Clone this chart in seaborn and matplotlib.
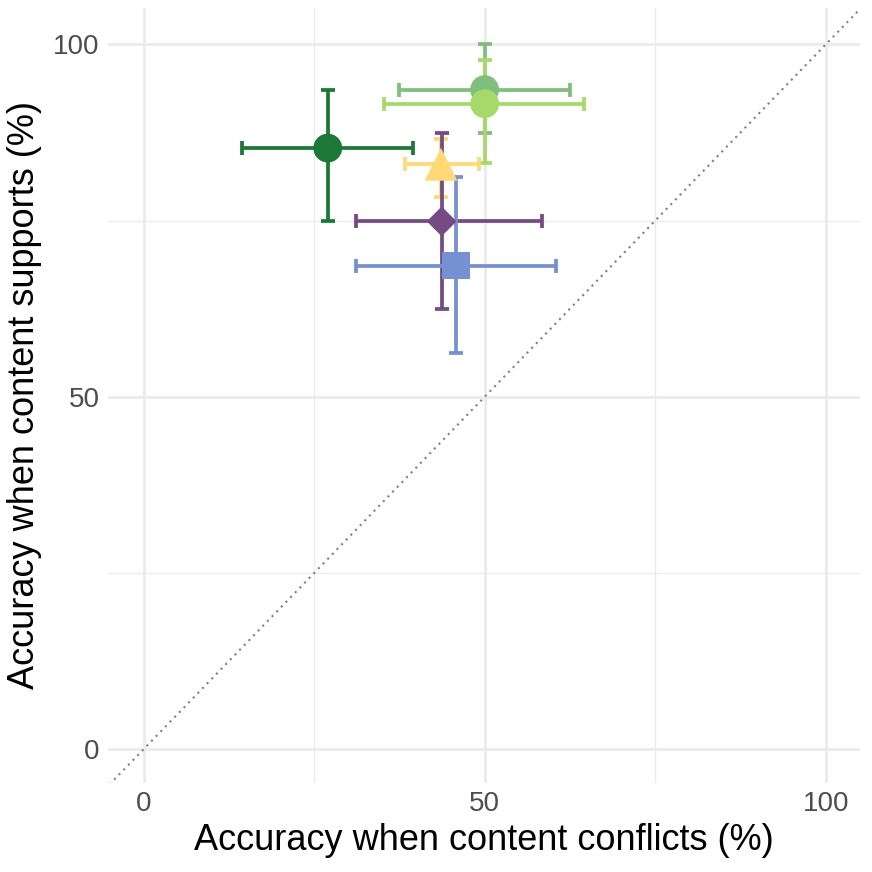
import matplotlib
matplotlib.use("Agg")
import matplotlib.pyplot as plt
import seaborn as sns
import pandas as pd

# one row per model: conflict accuracy (x) vs support accuracy (y), with 95% intervals
groups = ["g1", "g2", "g3", "g4", "g5", "g6"]
conflict = [27.0, 50.0, 50.0, 43.6, 43.7, 45.8]
conflict_lo = [14.4, 37.4, 35.3, 38.3, 31.1, 31.1]
conflict_hi = [39.5, 62.5, 64.6, 49.1, 58.4, 60.4]
support = [85.3, 93.6, 91.6, 83.0, 74.9, 68.6]
support_lo = [74.9, 87.4, 83.2, 78.3, 62.4, 56.2]
support_hi = [93.6, 100.0, 97.8, 86.6, 87.4, 81.2]

colors = ["#1b7837", "#7fbf7b", "#a6d96a", "#fed976", "#764a83", "#7591d1"]
markers = ["o", "o", "o", "^", "D", "s"]
msizes = [430, 430, 430, 560, 230, 380]

df = pd.DataFrame({"group": groups, "conflict": conflict, "support": support,
                   "xlo": conflict_lo, "xhi": conflict_hi,
                   "ylo": support_lo, "yhi": support_hi})

sns.set_theme(style="whitegrid")
plt.rcParams["font.family"] = ["Liberation Sans", "DejaVu Sans"]

fig = plt.figure(figsize=(8.72, 8.72), dpi=100)
ax = fig.add_axes([0.124, 0.102, 0.862, 0.889])

ax.plot([-5, 105], [-5, 105], linestyle=(0, (1, 2.2)), color="#7f7f7f", lw=1.5, zorder=1)

# error bars first, points on top (like geom_errorbar + geom_point)
for i, row in df.iterrows():
    ax.errorbar(row["conflict"], row["support"],
                xerr=[[row["conflict"] - row["xlo"]], [row["xhi"] - row["conflict"]]],
                fmt="none", ecolor=colors[i], elinewidth=2.7, capsize=5, capthick=2.7,
                zorder=2)
    ax.errorbar(row["conflict"], row["support"],
                yerr=[[row["support"] - row["ylo"]], [row["yhi"] - row["support"]]],
                fmt="none", ecolor=colors[i], elinewidth=2.7, capsize=5, capthick=2.7,
                zorder=2)

for i, g in enumerate(groups):
    sns.scatterplot(data=df[df["group"] == g], x="conflict", y="support",
                    color=colors[i], marker=markers[i], s=msizes[i],
                    edgecolor="none", ax=ax, zorder=3, legend=False)

ax.set_xlim(-5.2, 105)
ax.set_ylim(-4.8, 105.2)
ax.set_xticks([0, 50, 100])
ax.set_yticks([0, 50, 100])
ax.set_xticks([25, 75], minor=True)
ax.set_yticks([25, 75], minor=True)
ax.grid(which="major", color="#ebebeb", lw=2.0)
ax.grid(which="minor", color="#ebebeb", lw=1.0)
for s in ax.spines.values():
    s.set_visible(False)
ax.tick_params(axis="both", which="both", length=0, labelsize=20, labelcolor="#4d4d4d", pad=6)
ax.set_xlabel("Accuracy when content conflicts (%)", fontsize=26, color="black", labelpad=4)
ax.set_ylabel("Accuracy when content supports (%)", fontsize=26, color="black", labelpad=8)

fig.savefig("out.png", dpi=100)
